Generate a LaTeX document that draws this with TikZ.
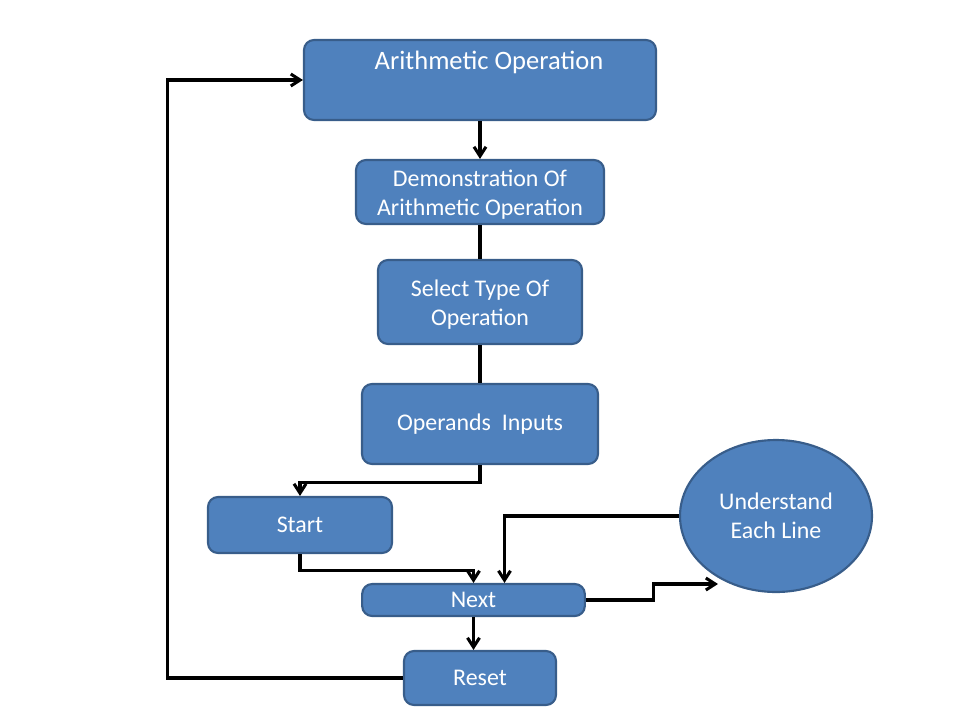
\documentclass[tikz,border=0pt]{standalone}
\usepackage{fontspec}
\setmainfont{Carlito}
\usetikzlibrary{arrows.meta, shapes.geometric, calc}
\definecolor{boxfill}{HTML}{4F81BD}
\definecolor{boxline}{HTML}{385D8A}

\begin{document}
\begin{tikzpicture}[x=0.75bp, y=-0.75bp, >={Straight Barb[length=7bp,width=9bp]},
    box/.style={draw=boxline, line width=1.6bp, rounded corners=7.5bp, fill=boxfill,
                text=white, align=center, inner sep=0pt,
                font=\fontsize{18}{21.75}\selectfont},
    blob/.style={box, ellipse},
    arr/.style={->, line width=2.3bp, black},
    link/.style={line width=2.3bp, black}
  ]
  \useasboundingbox (0,0) rectangle (960,720);

  \node[box, minimum width=264bp, minimum height=60bp] (arith) at (480,80) {};
  \node[text=white, font=\fontsize{20}{24}\selectfont] (arithtxt) at (489,62) {Arithmetic Operation};
  \node[box, minimum width=186bp, minimum height=48bp] (demo) at (480,192)
        {\rule{0pt}{0.95em}Demonstration Of\\Arithmetic Operation};
  \node[box, minimum width=153bp, minimum height=63bp] (sel) at (480,302)
        {\rule{0pt}{0.95em}Select Type Of\\Operation};
  \node[box, minimum width=177bp, minimum height=60bp] (oper) at (480,424)
        {Operands\ \ Inputs};
  \node[box, minimum width=138bp, minimum height=42bp] (start) at (300,525) {Start};
  \node[box, minimum width=167bp, minimum height=24bp] (next) at (473.5,600) {Next};
  \node[box, minimum width=114bp, minimum height=40.5bp] (reset) at (480,678) {Reset};
  \node[blob, minimum width=144bp, minimum height=114bp] (under) at (776,516)
        {Understand\\Each Line};

  \coordinate (tip) at ($(under.center)+(-58,68)$);

  \draw[arr]  (arith) -- (demo);
  \draw[link] (demo) -- (sel);
  \draw[link] (sel) -- (oper);
  \draw[arr]  (oper.south) -- ++(0,17) -| (start.north);
  \draw[arr]  (start.south) -- ++(0,16) -| (next.north);
  \draw[arr]  (under.west) -| ($(next.north)+(31,0)$);
  \draw[arr]  (next.east) -- ++(68,0) |- (tip);
  \draw[arr]  (next.south) -- (next.south |- reset.north);
  \draw[arr]  (reset.west) -- ++(-235,0) |- (arith.west);

\end{tikzpicture}
\end{document}
